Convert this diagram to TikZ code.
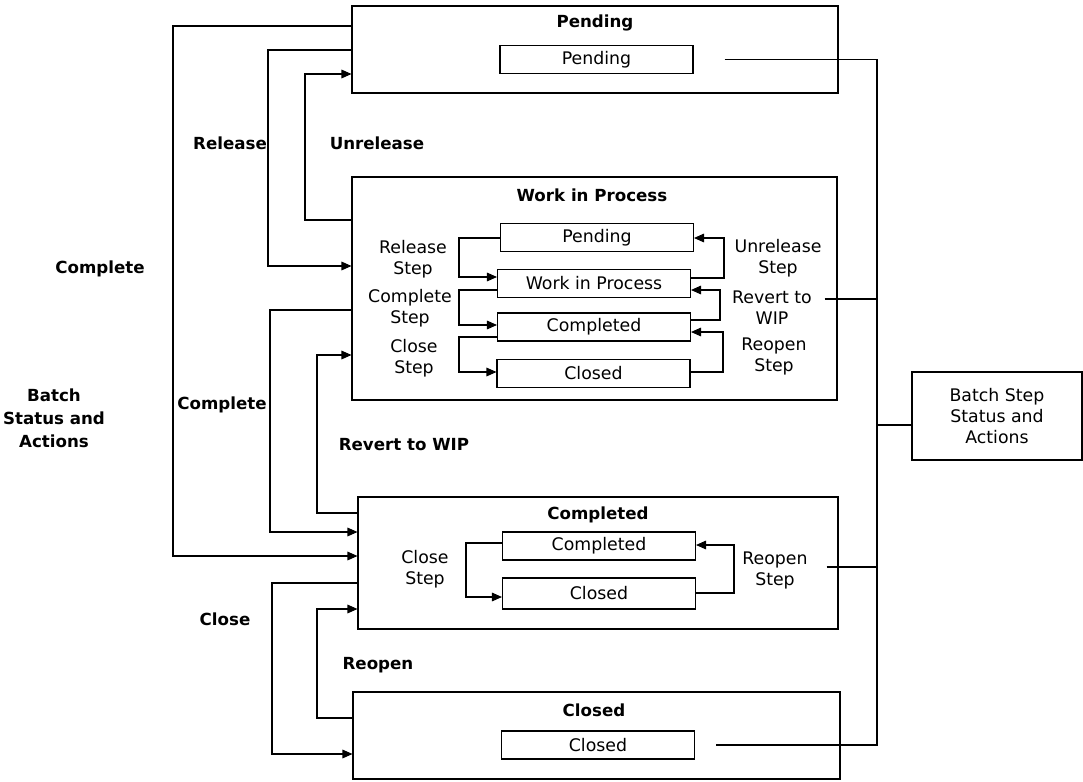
\documentclass[tikz,border=0pt]{standalone}
\usepackage{fontspec}
\setmainfont{DejaVu Sans}
\usepackage{tikz}
\usetikzlibrary{arrows.meta, positioning, calc}

\tikzset{
  statebox/.style={draw, inner sep=0pt},
  stepbox/.style={draw, inner sep=0pt, minimum width=193*0.75pt, minimum height=28*0.75pt, font=\fontsize{13}{15.75}\selectfont},
  title/.style={font=\fontsize{12.5}{17.25}\selectfont\bfseries},
  actlbl/.style={font=\fontsize{12.5}{17.25}\selectfont\bfseries, align=center},
  steplbl/.style={font=\fontsize{13}{15.75}\selectfont, align=center},
  arr/.style={-{Triangle[length=7.5pt, width=6.5pt]}}
}

\begin{document}
\begin{tikzpicture}[x=0.75pt, y=-0.75pt, line width=0.8pt]
  \useasboundingbox (0, 0) rectangle (1083, 782);

  \node[statebox, minimum width=486*0.75pt, minimum height=87*0.75pt] (pend) at (595, 49.5) {};
  \node[statebox, minimum width=485*0.75pt, minimum height=223*0.75pt] (wip) at (594.5, 288.5) {};
  \node[statebox, minimum width=480*0.75pt, minimum height=132*0.75pt] (comp) at (598, 563) {};
  \node[statebox, minimum width=487*0.75pt, minimum height=87*0.75pt] (clos) at (596.5, 735.5) {};

  \node[title] (pendtitle) at (595, 23) {Pending};
  \node[title] (wiptitle) at (592, 195) {Work in Process};
  \node[title] (comptitle) at (598, 515) {Completed};
  \node[title] (clostitle) at (594, 710) {Closed};

  \node[stepbox] (pendS) at (596.5, 59.5) {Pending};
  \node[stepbox] (wipP) at (597, 237.5) {Pending};
  \node[stepbox] (wipW) at (594, 283.5) {Work in Process};
  \node[stepbox] (wipC) at (594, 327) {Completed};
  \node[stepbox] (wipX) at (593.5, 373.5) {Closed};
  \node[stepbox] (compC) at (599, 546) {Completed};
  \node[stepbox, minimum height=31*0.75pt] (compX) at (599, 593.5) {Closed};
  \node[stepbox] (closS) at (598, 745) {Closed};

  \node[steplbl] (relstep) at (413, 259) {Release\\Step};
  \node[steplbl] (cplstep) at (410, 308) {Complete\\Step};
  \node[steplbl] (clsstep) at (414, 358) {Close\\Step};
  \node[steplbl] (unrstep) at (778, 258) {Unrelease\\Step};
  \node[steplbl] (revstep) at (772, 308) {Revert to\\WIP};
  \node[steplbl] (reostep) at (774, 356) {Reopen\\Step};
  \node[steplbl] (clsstep2) at (425, 569) {Close\\Step};
  \node[steplbl] (reostep2) at (775, 570) {Reopen\\Step};

  \draw[arr] (wipP.west |- 0, 238) -- (459, 238) |- (wipW.west |- 0, 277);
  \draw[arr] (wipW.west |- 0, 290) -- (459, 290) |- (wipC.west |- 0, 325);
  \draw[arr] (wipC.west |- 0, 337) -- (459, 337) |- (wipX.west |- 0, 372);
  \draw[arr] (wipW.east |- 0, 278) -- (724, 278) |- (wipP.east |- 0, 238);
  \draw[arr] (wipC.east |- 0, 320) -- (720, 320) |- (wipW.east |- 0, 290);
  \draw[arr] (wipX.east |- 0, 372) -- (723, 372) |- (wipC.east |- 0, 332);

  \draw[arr] (compC.west |- 0, 543) -- (466, 543) |- (compX.west |- 0, 597);
  \draw[arr] (compX.east |- 0, 593) -- (734, 593) |- (compC.east |- 0, 545);

  \node[actlbl] (lblcomplete) at (100, 269) {Complete};
  \node[actlbl] (lblrelease) at (230, 143) {Release};
  \node[actlbl] (lblunrelease) at (377, 143) {Unrelease};
  \node[actlbl] (lblcomplete2) at (222, 405) {Complete};
  \node[actlbl] (lblrevert) at (404, 445) {Revert to WIP};
  \node[actlbl] (lblclose) at (225, 619) {Close};
  \node[actlbl] (lblreopen) at (378, 665) {Reopen};
  \node[actlbl] (batch) at (54, 418) {Batch\\Status and\\Actions};

  \draw[arr] (pend.west |- 0, 26) -- (173, 26) |- (comp.west |- 0, 556);
  \draw[arr] (pend.west |- 0, 50) -- (268, 50) |- (wip.west |- 0, 266);
  \draw[arr] (wip.west |- 0, 220) -- (305, 220) |- (pend.west |- 0, 74);
  \draw[arr] (wip.west |- 0, 310) -- (270, 310) |- (comp.west |- 0, 532);
  \draw[arr] (comp.west |- 0, 513) -- (317, 513) |- (wip.west |- 0, 355);
  \draw[arr] (comp.west |- 0, 583) -- (272, 583) |- (clos.west |- 0, 754);
  \draw[arr] (clos.west |- 0, 718) -- (317, 718) |- (comp.west |- 0, 609);

  \node[draw, inner sep=0pt, minimum width=170*0.75pt, minimum height=88*0.75pt, steplbl] (stepbatch) at (997, 416) {Batch Step\\Status and\\Actions};
  \coordinate (bus) at (877, 0);

  \draw ($(pendS.east)+(31, 0)$) -- (pendS.east -| bus) -- (bus |- closS.east) -- ($(closS.east)+(21, 0)$);
  \draw ($(wip.east)+(-13, 10.5)$) -- (bus |- 0, 299);
  \draw ($(comp.east)+(-12, 4)$) -- (bus |- 0, 567);
  \draw (stepbatch.west |- 0, 425) -- (bus |- 0, 425);
\end{tikzpicture}
\end{document}
